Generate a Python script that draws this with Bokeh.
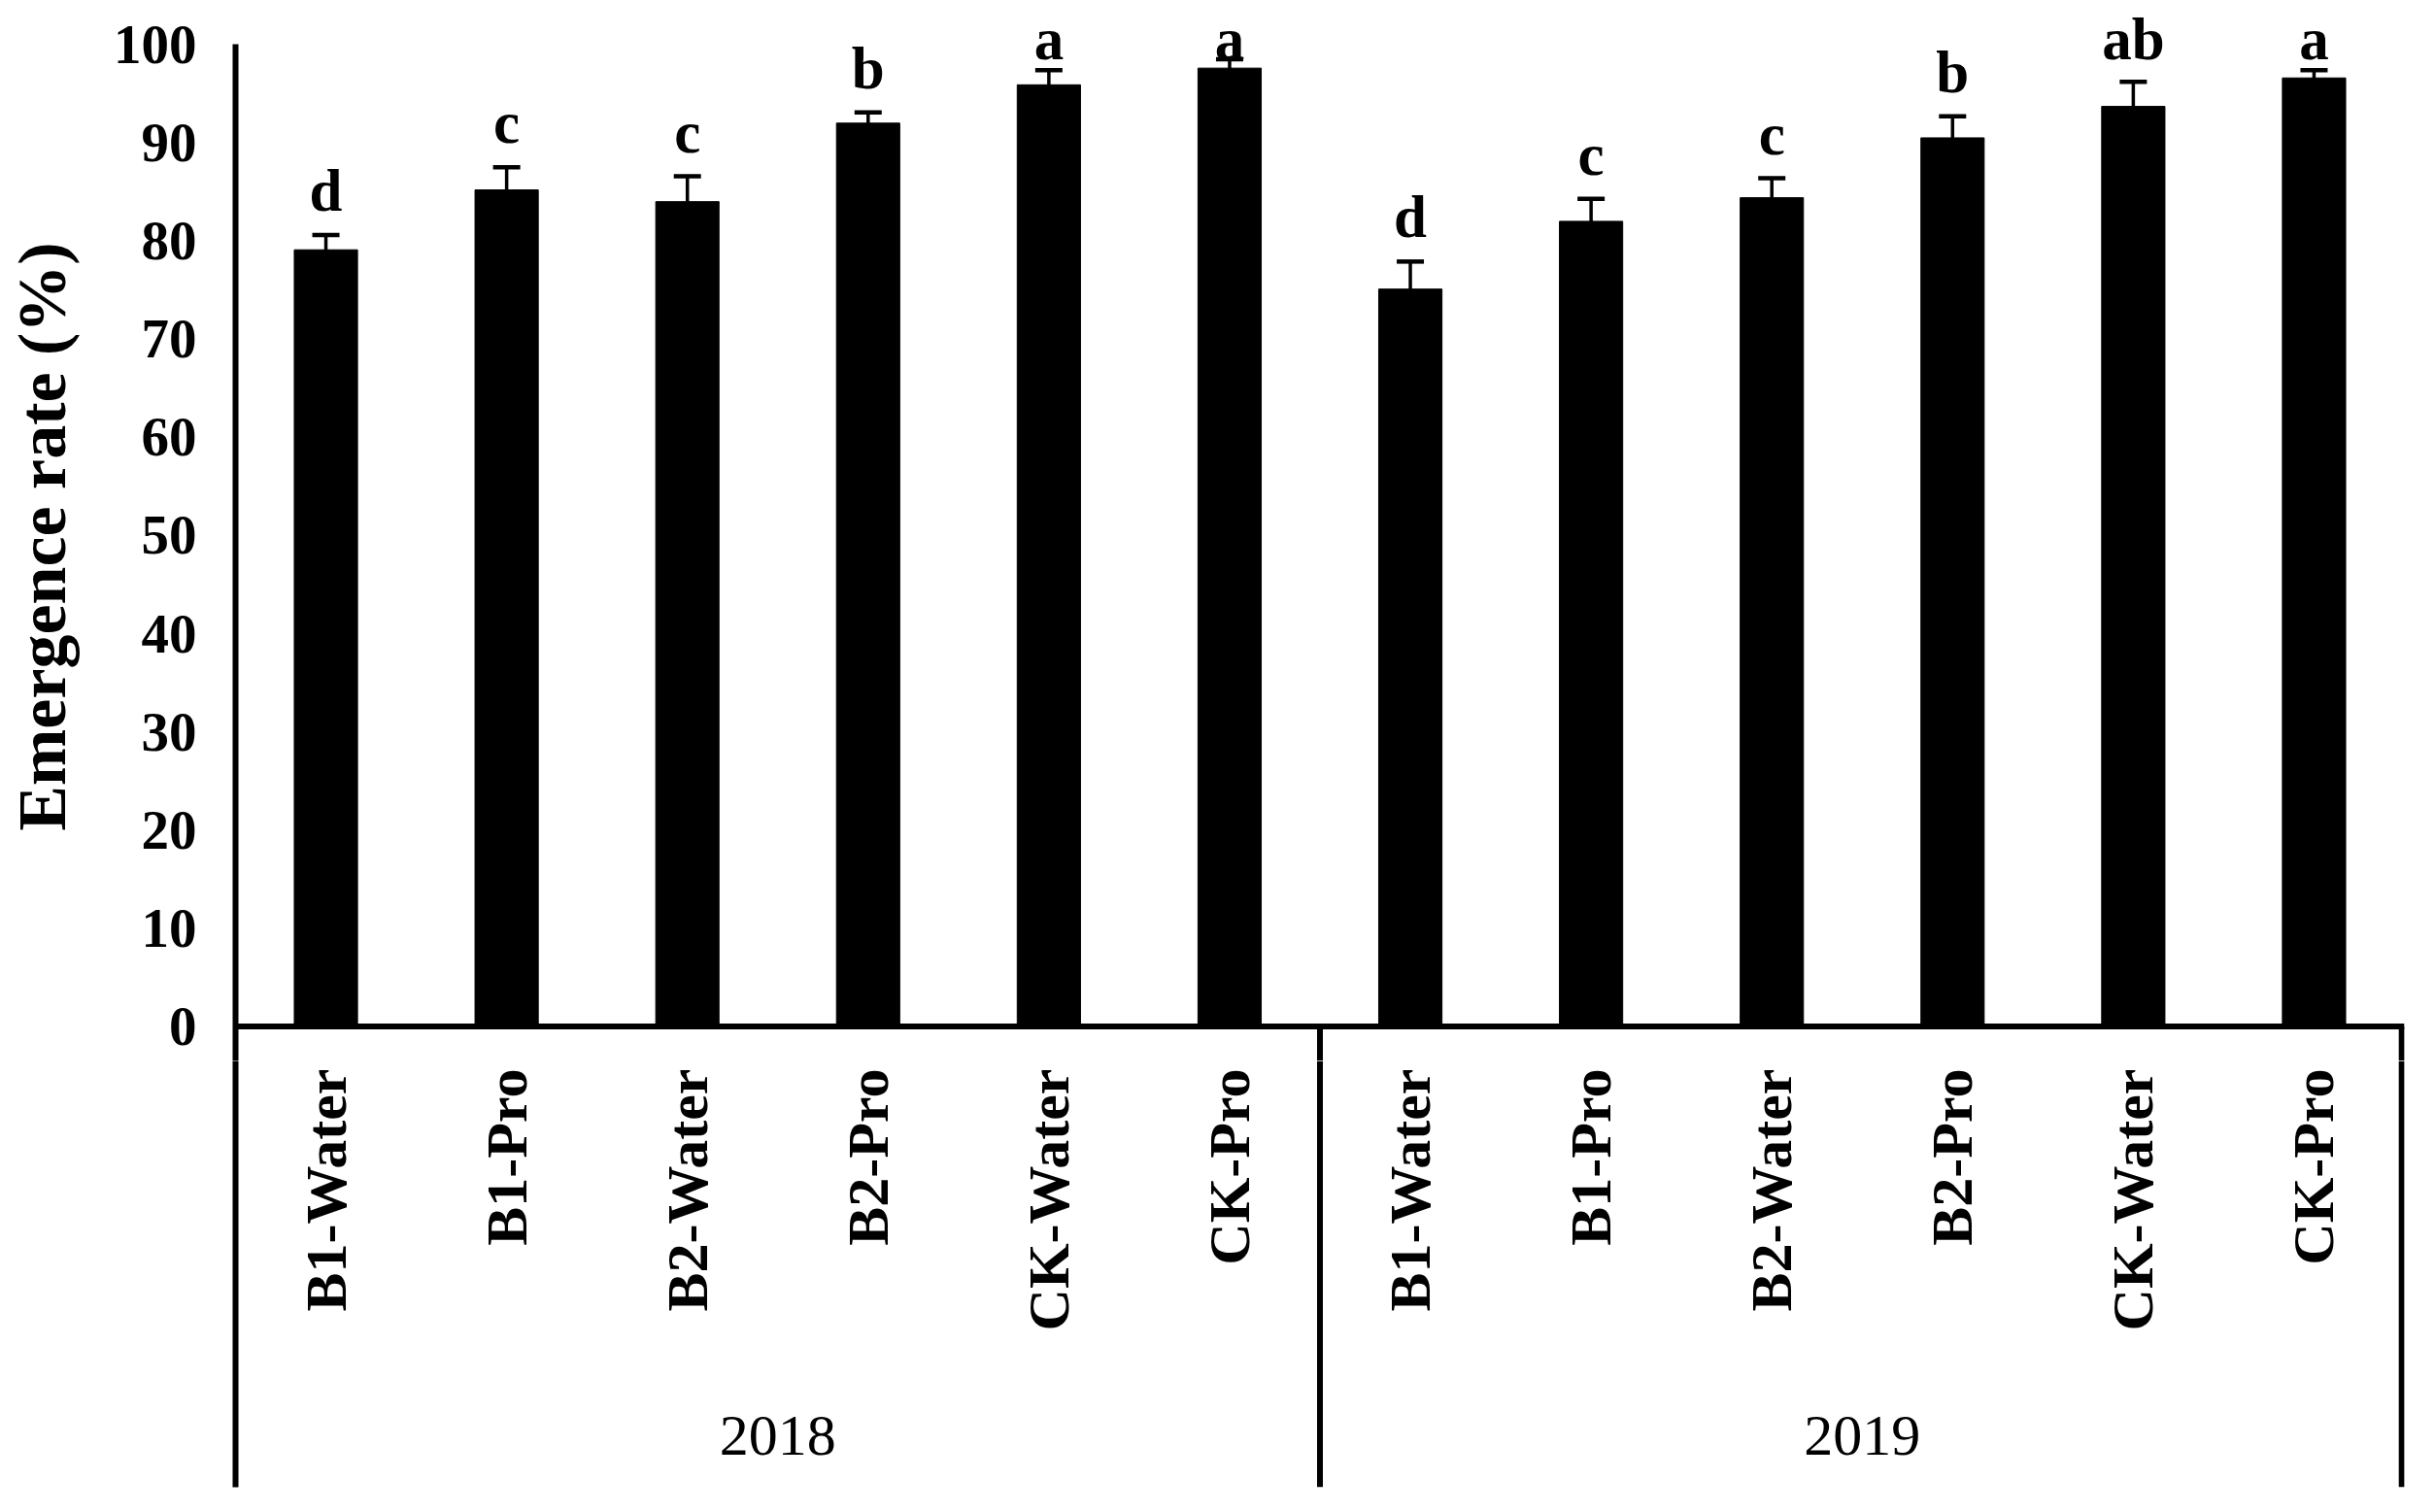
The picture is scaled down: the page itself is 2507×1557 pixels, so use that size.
import math
from bokeh.plotting import figure
from bokeh.layouts import column
from bokeh.models import (FactorRange, ColumnDataSource, Whisker, TeeHead,
                          FixedTicker, Span)
from bokeh.core.properties import value
from bokeh.embed import file_html
from bokeh.resources import INLINE

# ---- data ----
years = ["2018", "2019"]
treatments = ["B1-Water", "B1-Pro", "B2-Water", "B2-Pro", "CK-Water", "CK-Pro"]
rate_2018 = [79.1, 85.2, 84.0, 92.0, 95.9, 97.6]
rate_2019 = [75.1, 82.0, 84.4, 90.5, 93.7, 96.6]
err_2018 = [1.5, 2.3, 2.6, 1.1, 1.5, 0.9]
err_2019 = [2.8, 2.3, 2.0, 2.2, 2.5, 0.8]
letters_2018 = ["d", "c", "c", "b", "a", "a"]
letters_2019 = ["d", "c", "c", "b", "ab", "a"]
y_ticks = [0, 10, 20, 30, 40, 50, 60, 70, 80, 90, 100]
y_title = "Emergence rate (%)"

FONT = "Liberation Serif"
Y_END = 103.3
Y_LOW = -3.5
LETTER_PAD = 3.2
LETTER_MAX = 99.2
LOWER_H = 439          # height (px) of the category-label band's frame

factors = [(y, t) for y in years for t in treatments]
rates = rate_2018 + rate_2019
errs = err_2018 + err_2019
letters = letters_2018 + letters_2019
label_y = [min(r + e + LETTER_PAD, LETTER_MAX) for r, e in zip(rates, errs)]

src = ColumnDataSource(data=dict(
    x=factors,
    top=rates,
    upper=[r + e for r, e in zip(rates, errs)],
    lower=[r - e for r, e in zip(rates, errs)],
    letter=letters,
    label_y=label_y,
    treatment=[t for _, t in factors],
))

x_range = FactorRange(factors=factors, factor_padding=0, group_padding=0,
                      subgroup_padding=0, range_padding=0)
sep_x = [("2018", "CK-Pro", 0.5), ("2019", "CK-Pro", 0.485)]

# ================= upper panel: bars =================
p = figure(x_range=x_range, y_range=(Y_LOW, Y_END), width=2491, height=1092,
           output_backend="svg", toolbar_location=None, x_axis_location=None,
           min_border_left=242, min_border_right=16, min_border_top=12,
           min_border_bottom=0)
p.outline_line_color = None
p.grid.visible = False

p.vbar(x="x", top="top", width=0.35, source=src, fill_color="black",
       line_color="black")

w = Whisker(base="x", upper="upper", lower="lower", source=src,
            line_color="black", line_width=3.5,
            upper_head=TeeHead(size=28, line_color="black", line_width=4.5),
            lower_head=TeeHead(size=28, line_color="black", line_width=4.5))
p.add_layout(w)

p.text(x="x", y="label_y", text="letter", source=src, y_offset=-13,
       text_font=value(FONT), text_font_style="bold", text_font_size="61px",
       text_align="center", text_baseline="alphabetic", text_color="black")

p.add_layout(Span(location=0, dimension="width", line_color="black", line_width=6))

p.segment(x0=sep_x, y0=[0, 0], x1=sep_x, y1=[Y_LOW, Y_LOW],
          line_color="black", line_width=6)

ya = p.yaxis[0]
ya.ticker = FixedTicker(ticks=y_ticks)
ya.bounds = (Y_LOW, 100)
ya.axis_line_width = 6
ya.axis_line_color = "black"
ya.major_tick_line_color = None
ya.minor_tick_line_color = None
ya.major_tick_out = 0
ya.major_tick_in = 0
ya.major_label_standoff = 40
ya.major_label_text_font = FONT
ya.major_label_text_font_style = "bold"
ya.major_label_text_font_size = "57px"
ya.major_label_text_color = "black"
ya.axis_label = y_title
ya.axis_label_text_font = FONT
ya.axis_label_text_font_style = "bold"
ya.axis_label_text_font_size = "70px"
ya.axis_label_text_color = "black"
ya.axis_label_standoff = 32

# ================= lower panel: category labels =================
q = figure(x_range=x_range, y_range=(-LOWER_H, 0), width=2491,
           height=LOWER_H + 10, output_backend="svg", toolbar_location=None,
           x_axis_location=None, min_border_left=242, min_border_right=16,
           min_border_top=0, min_border_bottom=10)
q.outline_line_color = None
q.grid.visible = False

qa = q.yaxis[0]
qa.ticker = FixedTicker(ticks=[])
qa.axis_line_width = 6
qa.axis_line_color = "black"
qa.major_tick_line_color = None
qa.minor_tick_line_color = None
qa.major_tick_out = 0
qa.major_tick_in = 0
qa.major_label_standoff = 0

q.segment(x0=sep_x, y0=[0, 0], x1=sep_x, y1=[-LOWER_H, -LOWER_H],
          line_color="black", line_width=6)

q.text(x="x", y=-8, text="treatment", source=src, angle=math.pi / 2,
       text_font=value(FONT), text_font_style="bold", text_font_size="60px",
       text_align="right", text_baseline="middle", text_color="black")

q.text(x=years, y=[-386, -386], text=years,
       text_font=value(FONT), text_font_style="normal", text_font_size="60px",
       text_align="center", text_baseline="middle", text_color="black")

layout = column(p, q, spacing=0)
open("out.html", "w").write(file_html(layout, INLINE))
